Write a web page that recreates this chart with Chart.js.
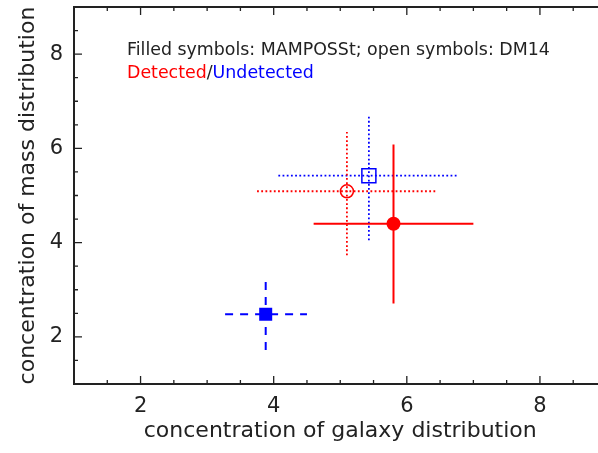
<!DOCTYPE html>
<html>
<head>
<meta charset="utf-8">
<script src="https://cdn.jsdelivr.net/npm/chart.js@4.4.0/dist/chart.umd.min.js"></script>
<style>
  html, body { margin: 0; padding: 0; background: #fff; overflow: hidden; }
</style>
</head>
<body>
<canvas id="conc" width="615" height="453"></canvas>
<script>
// values (centre + error bar ends)
var groups = ['MAMPOSSt detected', 'DM14 detected', 'DM14 undetected', 'MAMPOSSt undetected'];
var cGal = [5.80, 5.10, 5.43, 3.88];
var cMass = [4.40, 5.09, 5.42, 2.48];
var cGalLo = [4.60, 3.75, 4.07, 3.27];
var cGalHi = [7.00, 6.45, 6.78, 4.50];
var cMassLo = [2.71, 3.73, 4.05, 1.72];
var cMassHi = [6.08, 6.35, 6.70, 3.24];
var majorTicks = [2, 4, 6, 8];

// styles
var colors = ['#ff0000', '#ff0000', '#0000ff', '#0000ff'];
var filled = [true, false, false, true];
var shapes = ['circle', 'circle', 'rect', 'rect'];
var radii = [7, 6.5, 9.9, 9.2];
var dashes = [[], [1.8, 2.4], [1.8, 2.4], [8, 7]];

var FONT = 'DejaVu Sans';
var INK = '#222';

(function(){
  var datasets = [];
  groups.forEach(function(g, i){
    var base = {
      type: 'scatter', showLine: true, label: g + ' error',
      borderColor: colors[i], borderWidth: filled[i] ? 2 : 1.8,
      borderDash: dashes[i], pointRadius: 0, pointHoverRadius: 0, fill: false
    };
    datasets.push(Object.assign({}, base, { data: [{x: cGalLo[i], y: cMass[i]}, {x: cGalHi[i], y: cMass[i]}] }));
    datasets.push(Object.assign({}, base, { data: [{x: cGal[i], y: cMassLo[i]}, {x: cGal[i], y: cMassHi[i]}] }));
  });
  groups.forEach(function(g, i){
    datasets.push({
      type: 'scatter', label: g,
      data: [{x: cGal[i], y: cMass[i]}],
      pointStyle: shapes[i], pointRadius: radii[i], pointHoverRadius: radii[i],
      backgroundColor: filled[i] ? colors[i] : 'rgba(0,0,0,0)',
      borderColor: colors[i], borderWidth: filled[i] ? 0 : 1.5
    });
  });

  function tickLabel(v){ return majorTicks.indexOf(v) >= 0 ? String(v) : ''; }

  // inward ticks on all four sides + frame, IDL style
  var framePlugin = {
    id: 'frame',
    afterDraw: function(chart){
      var ctx = chart.ctx, a = chart.chartArea;
      var xs = chart.scales.x, ys = chart.scales.y;
      ctx.save();
      ctx.strokeStyle = INK;
      ctx.lineWidth = 1.3;
      xs.ticks.forEach(function(t){
        var px = xs.getPixelForValue(t.value);
        var len = majorTicks.indexOf(t.value) >= 0 ? 8 : 4;
        ctx.beginPath();
        ctx.moveTo(px, a.bottom); ctx.lineTo(px, a.bottom - len);
        ctx.moveTo(px, a.top); ctx.lineTo(px, a.top + len);
        ctx.stroke();
      });
      ys.ticks.forEach(function(t){
        var py = ys.getPixelForValue(t.value);
        var len = majorTicks.indexOf(t.value) >= 0 ? 8 : 4;
        ctx.beginPath();
        ctx.moveTo(a.left, py); ctx.lineTo(a.left + len, py);
        ctx.moveTo(a.right, py); ctx.lineTo(a.right - len, py);
        ctx.stroke();
      });
      ctx.lineWidth = 2;
      ctx.strokeRect(a.left, a.top, a.right - a.left, a.bottom - a.top);

      // in-plot note
      ctx.font = '17.4px "' + FONT + '"';
      ctx.textBaseline = 'alphabetic';
      ctx.textAlign = 'left';
      var x0 = a.left + 53;
      ctx.fillStyle = INK;
      ctx.fillText('Filled symbols: MAMPOSSt; open symbols: DM14', x0, a.top + 48);
      var parts = [['Detected', '#ff0000'], ['/', INK], ['Undetected', '#0000ff']];
      var x = x0;
      parts.forEach(function(p){
        ctx.fillStyle = p[1];
        ctx.fillText(p[0], x, a.top + 71);
        x += ctx.measureText(p[0]).width;
      });
      ctx.restore();
    }
  };

  new Chart(document.getElementById('conc'), {
    type: 'scatter',
    data: { datasets: datasets },
    options: {
      responsive: false,
      animation: false,
      layout: { autoPadding: false, padding: { top: 7, right: 8.5, left: 0, bottom: 0 } },
      plugins: { legend: { display: false }, tooltip: { enabled: false } },
      scales: {
        x: {
          type: 'linear', min: 1, max: 9,
          ticks: { stepSize: 0.5, autoSkip: false, maxRotation: 0, callback: tickLabel,
                   color: INK, padding: 2, font: { family: FONT, size: 21 } },
          grid: { display: false }, border: { display: false },
          title: { display: true, text: 'concentration of galaxy distribution', color: INK,
                   font: { family: FONT, size: 22 }, padding: { top: 0, bottom: 9 } },
          afterFit: function(s){ s.height = 69; s.paddingLeft = 0; s.paddingRight = 0; }
        },
        y: {
          type: 'linear', min: 1, max: 9,
          ticks: { stepSize: 0.5, autoSkip: false, callback: tickLabel,
                   color: INK, padding: 3, font: { family: FONT, size: 21 } },
          grid: { display: false }, border: { display: false },
          title: { display: true, text: 'concentration of mass distribution', color: INK,
                   font: { family: FONT, size: 22 }, padding: { top: 15, bottom: 0 } },
          afterFit: function(s){ s.width = 74; s.paddingTop = 0; s.paddingBottom = 0; }
        }
      }
    },
    plugins: [framePlugin]
  });
})();
</script>
</body>
</html>
